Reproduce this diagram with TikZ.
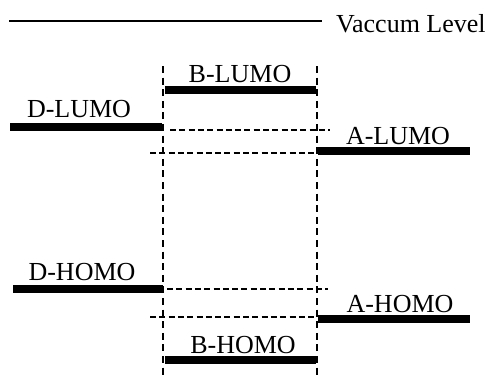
\documentclass[tikz,border=0pt]{standalone}
\usepackage{fontspec}
\setmainfont{Liberation Serif}
\begin{document}
\begin{tikzpicture}[x=1bp,y=-1bp,
  level/.style={line width=8bp},
  thin/.style={line width=2bp},
  guide/.style={line width=1.8bp,dash pattern=on 6bp off 3.3bp},
  vguide/.style={line width=1.8bp,dash pattern=on 7bp off 4.6bp},
  lbl/.style={font=\fontsize{26bp}{30bp}\selectfont,inner sep=0pt,anchor=base}]
\useasboundingbox (0,0) rectangle (489,379);
% vacuum level
\coordinate (v1) at (9,21); \coordinate (v2) at (322,21);
\draw[thin] (v1) -- (v2);
\node[lbl,anchor=base west] (vac) at (336,32) {Vaccum Level};
% vertical guides
\coordinate (l1) at (163,66); \coordinate (l2) at (163,379);
\coordinate (r1) at (317,66); \coordinate (r2) at (317,379);
\draw[vguide] (l1) -- (l2);
\draw[vguide] (r1) -- (r2);
% B-LUMO
\coordinate (bl1) at (165,90); \coordinate (bl2) at (316,90);
\draw[level] (bl1) -- (bl2);
\node[lbl] (blt) at (240,82) {B-LUMO};
% D-LUMO
\coordinate (dl1) at (10,127); \coordinate (dl2) at (162,127);
\draw[level] (dl1) -- (dl2);
\node[lbl] (dlt) at (79,117) {D-LUMO};
% A-LUMO
\coordinate (al1) at (318,151); \coordinate (al2) at (470,151);
\draw[level] (al1) -- (al2);
\node[lbl] (alt) at (398,144) {A-LUMO};
% dashed LUMO lines
\coordinate (dd1) at (170,130); \coordinate (dd2) at (330,130);
\draw[guide] (dd1) -- (dd2);
\coordinate (ad1) at (150,153); \coordinate (ad2) at (316,153);
\draw[guide] (ad1) -- (ad2);
% D-HOMO
\coordinate (dh1) at (13,289); \coordinate (dh2) at (163,289);
\draw[level] (dh1) -- (dh2);
\node[lbl] (dht) at (82,280) {D-HOMO};
% A-HOMO
\coordinate (ah1) at (318,318.5); \coordinate (ah2) at (470,318.5);
\draw[level] (ah1) -- (ah2);
\node[lbl] (aht) at (400,312) {A-HOMO};
% dashed HOMO lines
\coordinate (ddh1) at (167,289); \coordinate (ddh2) at (328,289);
\draw[guide] (ddh1) -- (ddh2);
\coordinate (adh1) at (150,317); \coordinate (adh2) at (316,317);
\draw[guide] (adh1) -- (adh2);
% B-HOMO
\coordinate (bh1) at (165,359.5); \coordinate (bh2) at (316,359.5);
\draw[level] (bh1) -- (bh2);
\node[lbl] (bht) at (243,353) {B-HOMO};
\end{tikzpicture}
\end{document}
